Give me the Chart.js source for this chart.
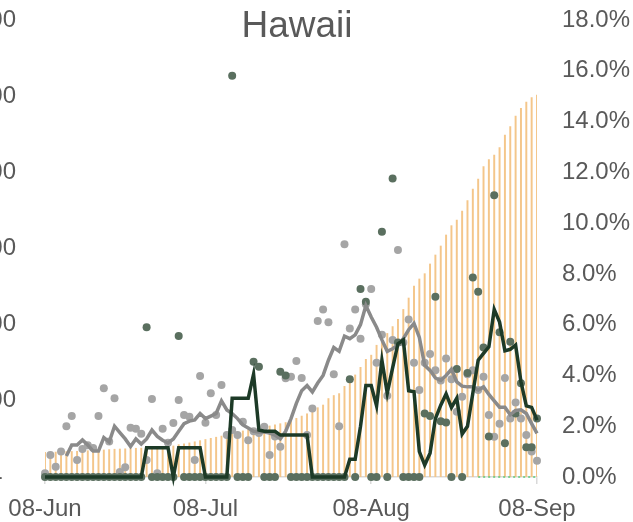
<html>
<head>
<script src="https://cdn.jsdelivr.net/npm/chart.js@4.4.0/dist/chart.umd.min.js"></script>
<style>
  body { margin: 0; background: #fff; }
  #wrap { position: relative; width: 633px; height: 522px; overflow: hidden; }
  #box { position: absolute; left: -50px; top: 0; width: 683px; height: 522px; }
</style>
</head>
<body>
<div id="wrap"><div id="box"><canvas id="hawaiiChart"></canvas></div></div>
<script>
// categories: daily, 08-Jun .. 08-Sep
const months = ['Jan','Feb','Mar','Apr','May','Jun','Jul','Aug','Sep','Oct','Nov','Dec'];
const labels = [];
for (let d = new Date(2020, 5, 8); d <= new Date(2020, 8, 8); d.setDate(d.getDate() + 1)) {
  labels.push(String(d.getDate()).padStart(2, '0') + '-' + months[d.getMonth()]);
}
const tickLabels = ['08-Jun', '08-Jul', '08-Aug', '08-Sep'];
const chartTitle = 'Hawaii';

// cumulative cases (left axis)
const cumCases = [
  650,652,655,660,665,670,675,680,690,695,705,710,720,730,735,740,748,755,760,765,775,780,790,800,815,
  850,870,895,925,955,985,1015,1045,1075,1110,1145,1180,1210,1240,1265,1290,1315,1340,1370,1400,
  1430,1480,1540,1600,1660,1730,1820,1890,2060,2140,2190,2380,2540,2680,2880,3090,3200,3460,3600,3770,3950,4140,4400,4700,
  5016,5200,5339,5594,5830,6066,6355,6600,6749,6985,7256,7563,7826,8149,8333,8456,8648,8981,9200,9480,9682,9848,9961,10031
];

// daily rate, gray dots (%)
const grayDots = [
  0.15,0.87,0.4,1.0,2.0,2.4,0.67,1.1,1.25,1.14,
  2.4,3.5,1.4,3.1,0.2,0.38,1.94,1.9,1.7,0.67,
  3.07,0.15,1.9,1.35,2.13,3.03,2.44,2.37,0.67,3.98,
  2.14,3.3,2.44,3.62,1.65,1.85,1.65,2.18,1.45,1.8,
  1.73,1.98,0.87,1.6,1.19,3.89,3.95,4.57,3.9,1.65,
  2.7,6.14,6.6,6.1,4.05,2.0,9.17,5.85,6.6,5.45,
  6.8,7.4,4.5,5.6,3.2,5.4,8.94,5.3,6.2,4.5,
  3.43,4.5,4.84,4.2,3.8,4.67,3.85,2.57,3.16,4.05,
  4.2,3.43,3.95,2.44,1.59,2.1,3.9,2.3,2.93,2.3,
  1.65,1.0,0.64
];

// daily rate, dark green dots (%)
const greenDots = [
  0,0,0,0,0,0,0,0,0,0,
  0,0,0,0,0,0,0,0,0,5.9,
  0,0,0,0,0,5.55,0,0,0,0,
  0,0,0,0,0,15.8,0,0,0,4.54,
  4.34,0,0,0,4.15,4.0,0,0,0,0,
  0,0,0,0,0,0,0,3.85,0,7.4,
  6.9,0,0,9.66,0,11.76,5.3,0,0,0,
  0,2.5,2.4,7.1,2.2,2.15,0,4.25,0,4.1,
  7.86,7.3,5.1,1.6,11.1,5.7,1.33,5.33,2.5,3.69,
  1.17,1.17,2.3
];

// 7-day lines (%)
const grayLine = [
  null,null,null,null,0.83,1.26,1.26,1.46,1.26,1.02,
  1.02,1.55,1.38,2.0,1.75,1.5,1.2,1.5,1.3,1.5,
  1.85,1.6,1.45,1.34,1.5,1.8,2.1,2.2,2.25,2.5,
  2.3,2.4,2.5,3.0,2.64,2.5,2.3,2.05,1.93,1.8,
  1.77,1.77,1.73,1.65,1.5,1.8,2.3,2.9,3.4,3.6,
  3.35,3.7,4.0,4.6,5.1,4.95,5.55,5.45,5.6,6.0,
  6.75,6.3,5.9,5.4,4.95,5.05,5.2,5.45,5.8,6.05,
  5.5,4.4,4.2,3.9,3.8,4.0,4.24,3.75,3.58,3.55,
  3.55,3.43,3.55,3.25,3.0,2.75,2.75,2.45,2.62,2.65,
  2.5,2.1,1.72
];
const greenLine = [
  0,0,0,0,0,0,0,0,0,0,
  0,0,0,0,0,0,0,0,0,1.15,
  1.15,1.15,1.15,1.15,0,1.15,1.15,1.15,1.15,1.15,
  0,0,0,0,0,3.1,3.1,3.1,3.1,4.05,
  1.85,1.8,1.8,1.8,1.65,1.65,1.65,1.65,1.65,1.65,
  0,0,0,0,0,0,0,0.7,0.7,2.0,
  3.6,3.6,2.8,4.6,3.3,4.3,5.25,5.4,3.4,3.36,
  1.0,0.47,0.94,2.3,2.83,3.27,2.74,3.1,1.69,2.0,
  3.3,4.6,4.87,5.13,6.6,6.1,4.97,5.03,5.2,3.75,
  2.8,2.74,2.24
];
// thin dashed series sitting on zero at the end
const zeroLine = Array(81).fill(null).concat([0,0,0,0,0,0,0,0,0,0,0,0]);

const txt = '#595959';
const fam = "'Liberation Sans', Arial, sans-serif";

// title is drawn over the plot area, like the original
const titleOverlay = {
  id: 'titleOverlay',
  afterDraw(chart) {
    const ctx = chart.ctx;
    ctx.save();
    ctx.font = '37px ' + fam;
    ctx.fillStyle = txt;
    ctx.textAlign = 'center';
    ctx.textBaseline = 'middle';
    ctx.fillText(chartTitle, 347, 27);
    ctx.restore();
  }
};

// keep the tick padding from pushing the plot area down
function fitY(width) {
  return (s) => { s.width = width; s.paddingTop = 0; s.paddingBottom = 0; };
}

new Chart(document.getElementById('hawaiiChart'), {
  type: 'bar',
  data: {
    labels: labels,
    datasets: [
      { type: 'line', data: greenLine, yAxisID: 'yR', borderColor: '#1D3A27', borderWidth: 3.5,
        pointRadius: 0, tension: 0, clip: false, order: 0 },
      { type: 'line', data: grayLine, yAxisID: 'yR', borderColor: '#8A8A8A', borderWidth: 3.5,
        pointRadius: 0, tension: 0, clip: false, order: 1 },
      { type: 'line', data: zeroLine, yAxisID: 'yR', borderColor: '#5CCB7A', borderWidth: 1.5,
        borderDash: [2, 3], pointRadius: 0, clip: false, order: 2 },
      { type: 'line', data: greenDots, yAxisID: 'yR', showLine: false, pointRadius: 4,
        pointBackgroundColor: '#5A6F5F', pointBorderWidth: 0, clip: false, order: 3 },
      { type: 'line', data: grayDots, yAxisID: 'yR', showLine: false, pointRadius: 4,
        pointBackgroundColor: '#A5A5A5', pointBorderWidth: 0, clip: false, order: 4 },
      { type: 'bar', data: cumCases, yAxisID: 'yL', backgroundColor: '#F4C68A',
        barThickness: 1.3, order: 5 }
    ]
  },
  options: {
    responsive: true,
    maintainAspectRatio: false,
    animation: false,
    layout: { padding: { top: 20 } },
    plugins: {
      legend: { display: false },
      tooltip: { enabled: false },
      title: { display: false }
    },
    scales: {
      x: {
        type: 'category', offset: false,
        afterBuildTicks: (ax) => {
          ax.ticks = ax.ticks.filter(t => tickLabels.includes(labels[t.value]));
        },
        afterFit: (s) => { s.height = 45; },
        ticks: { autoSkip: false, maxRotation: 0, color: txt, padding: 11,
          font: { family: fam, size: 24 } },
        grid: { display: true, drawOnChartArea: false, drawTicks: true, tickLength: 7,
          color: '#D9D9D9', lineWidth: 1.5, offset: false },
        border: { display: true, color: '#D9D9D9', width: 1.5 }
      },
      yL: {
        position: 'left', min: 0, max: 12000,
        afterFit: fitY(95),
        ticks: { stepSize: 2000, color: txt, padding: 29, font: { family: fam, size: 24 },
          callback: (v) => v === 0 ? '-  ' : v.toLocaleString('en-US') },
        grid: { display: false, drawTicks: false },
        border: { display: false }
      },
      yR: {
        position: 'right', min: 0, max: 18,
        afterFit: fitY(96),
        ticks: { stepSize: 2, color: txt, padding: 25, font: { family: fam, size: 24 },
          callback: (v) => v.toFixed(1) + '%' },
        grid: { display: false, drawTicks: false },
        border: { display: false }
      }
    }
  },
  plugins: [titleOverlay]
});
</script>
</body>
</html>
